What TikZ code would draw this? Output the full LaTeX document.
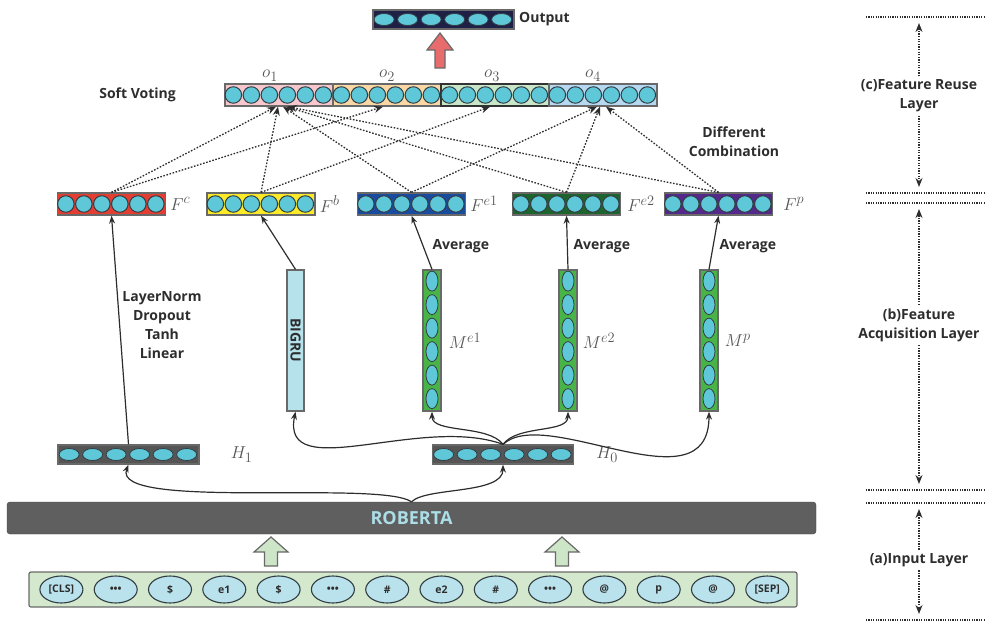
\documentclass[tikz,border=0pt]{standalone}
\usepackage{fontspec}
\setsansfont{Open Sans}
\usetikzlibrary{arrows.meta, positioning, shapes.geometric, calc}

\definecolor{txtgray}{RGB}{45,45,45}
\definecolor{mathgray}{RGB}{85,85,85}
\definecolor{boxgray}{RGB}{105,105,105}
\definecolor{ballcyan}{RGB}{95,200,216}
\definecolor{ballrim}{RGB}{50,62,68}
\definecolor{navy}{RGB}{30,32,70}
\definecolor{redarrow}{RGB}{232,108,108}
\definecolor{pinkseg}{RGB}{246,200,206}
\definecolor{orangeseg}{RGB}{250,216,166}
\definecolor{greenseg}{RGB}{200,230,200}
\definecolor{blueseg}{RGB}{182,216,240}
\definecolor{fcred}{RGB}{228,62,50}
\definecolor{fbyellow}{RGB}{250,234,40}
\definecolor{feblue}{RGB}{25,75,160}
\definecolor{fegreen}{RGB}{30,100,45}
\definecolor{fppurple}{RGB}{85,40,140}
\definecolor{mgreen}{RGB}{72,180,72}
\definecolor{grublue}{RGB}{182,226,236}
\definecolor{hgray}{RGB}{85,85,85}
\definecolor{robgray}{RGB}{95,95,95}
\definecolor{robtext}{RGB}{172,222,232}
\definecolor{inpgreen}{RGB}{212,232,206}
\definecolor{tokblue}{RGB}{186,226,236}
\definecolor{arrowgreen}{RGB}{206,230,200}

\begin{document}
\begin{tikzpicture}[
  x=1pt, y=-1pt,
  >=Stealth,
  lbl/.style={font=\sffamily\bfseries\fontsize{14}{19}\selectfont, text=txtgray, align=center},
  mathlbl/.style={font=\fontsize{19}{19}\selectfont, text=mathgray, inner sep=1pt},
  vecbox/.style={draw=boxgray, line width=1.3pt, minimum width=108pt,
    minimum height=22pt, inner sep=0pt},
  ball/.style={circle, draw=ballrim, fill=ballcyan, line width=1pt,
    minimum size=16.5pt, inner sep=0pt},
  hball/.style={ellipse, draw=ballrim, fill=ballcyan, line width=0.8pt,
    minimum width=20pt, minimum height=12pt, inner sep=0pt},
  vball/.style={ellipse, draw=ballrim, fill=ballcyan, line width=0.8pt,
    minimum width=12pt, minimum height=20pt, inner sep=0pt},
  hbox/.style={vecbox, fill=hgray, minimum width=141pt, minimum height=19pt},
  mcol/.style={vecbox, fill=mgreen, minimum width=18pt, minimum height=141pt},
  token/.style={ellipse, draw=ballrim, fill=tokblue, line width=1.1pt,
    minimum width=43pt, minimum height=27pt, inner sep=0pt,
    font=\sffamily\bfseries\fontsize{10.5}{11}\selectfont, text=txtgray},
  link/.style={-{Stealth[length=8pt, width=6pt]}, line width=1.2pt, draw=txtgray},
  vote/.style={-{Stealth[length=9pt, width=7pt]}, line width=1.3pt, draw=txtgray,
    dash pattern=on 1.6pt off 1.6pt},
  layerline/.style={line width=1.6pt, draw=txtgray, dash pattern=on 1.2pt off 1.2pt},
  layerarrow/.style={-{Stealth[length=9pt, width=7pt]}, line width=1.3pt,
    draw=txtgray, dash pattern=on 1.3pt off 1.3pt},
  blockarrow/.style={draw=boxgray, line width=1.2pt, line join=miter}
]
\useasboundingbox (0,0) rectangle (989,622);

% Output layer
\node[hbox, fill=navy] (out) at (443.5,19.5) {};
\node[lbl, right=1pt of out] (outtxt) {Output};
\draw[blockarrow, fill=redarrow] (440,68) -- ++(5,0) -- ++(0,-18) -- ++(8,0)
  -- ++(-13,-17) -- ++(-13,17) -- ++(8,0) -- ++(0,18) -- cycle;

% Soft voting bar
\node[vecbox, fill=pinkseg] (o1) at (279,95) {};
\node[vecbox, fill=orangeseg] (o2) at (387,95) {};
\node[vecbox, fill=greenseg, draw=black!80] (o3) at (495,95) {};
\node[vecbox, fill=blueseg] (o4) at (603,95) {};
\node[mathlbl, above=1pt of o1, xshift=-9pt] {$o_1$};
\node[mathlbl, above=1pt of o2] {$o_2$};
\node[mathlbl, above=1pt of o3, xshift=-3pt] {$o_3$};
\node[mathlbl, above=1pt of o4, xshift=-10pt] {$o_4$};
\node[lbl, left=45pt of o1] (vote) {Soft Voting};

% Feature vectors
\node[vecbox, fill=fcred] (fc) at (111.5,204) {};
\node[vecbox, fill=fbyellow] (fb) at (261,204) {};
\node[vecbox, fill=feblue] (fe1) at (411.5,204) {};
\node[vecbox, fill=fegreen] (fe2) at (566.5,204) {};
\node[vecbox, fill=fppurple] (fp) at (718.5,204) {};
\node[mathlbl, right=3pt of fc] {$F^c$};
\node[mathlbl, right=3pt of fb] {$F^b$};
\node[mathlbl, right=3pt of fe1] {$F^{e1}$};
\node[mathlbl, right=5pt of fe2] {$F^{e2}$};
\node[mathlbl, right=9pt of fp] {$F^p$};
\node[lbl] (combo) at (734,142) {Different\\Combination};

\foreach \n in {fc,fb,fe1,fe2,fp,o1,o2,o3,o4}
  \foreach \i in {0,...,5}
    \node[ball] at ($(\n.west)+(9+18*\i,0)$) {};

% Different combinations
\foreach \f/\o/\d in {fc/o1/-3, fb/o1/-1, fe1/o1/4, fe2/o1/7, fp/o1/9,
                      fc/o2/-4, fb/o3/-5, fe1/o4/-6, fe2/o4/-3, fp/o4/3}
  \draw[vote] (\f.north) -- ($(\o.south)+(\d,0)$);

% Feature acquisition
\node[vecbox, fill=grublue, minimum width=17pt, minimum height=141pt] (bigru) at (295.5,340.5)
  {\rotatebox{-90}{\sffamily\bfseries\fontsize{14}{14}\selectfont\color{txtgray}BIGRU}};
\node[mcol] (me1) at (432,340.5) {};
\node[mcol] (me2) at (568,340.5) {};
\node[mcol] (mp) at (709,340.5) {};
\foreach \n in {me1,me2,mp}
  \foreach \i in {0,...,5}
    \node[vball] at ($(\n.north)+(0,11.75+23.5*\i)$) {};
\node[mathlbl, right=6pt of me1] {$M^{e1}$};
\node[mathlbl, right=4pt of me2] {$M^{e2}$};
\node[mathlbl, right=5pt of mp] {$M^p$};

\node[hbox] (h1) at (128.5,454.5) {};
\node[hbox] (h0) at (503,454.5) {};
\foreach \n in {h1,h0,out}
  \foreach \i in {0,...,5}
    \node[hball] at ($(\n.west)+(11.75+23.5*\i,0)$) {};
\node[mathlbl, right=30pt of h1] {$H_1$};
\node[mathlbl, right=21pt of h0] {$H_0$};

\draw[link] (h1.north) -- (fc.south);
\node[lbl] (ops) at (162,325) {LayerNorm\\Dropout\\Tanh\\Linear};
\draw[link] (bigru.north) -- (fb.south);
\draw[link] (me1.north) -- (fe1.south);
\draw[link] (me2.north) -- (fe2.south);
\draw[link] (mp.north) -- (fp.south);
\node[lbl, anchor=west] at ($(me1.north)+(-3,-23)$) {Average};
\node[lbl, anchor=west] at ($(me2.north)+(2,-23)$) {Average};
\node[lbl, anchor=west] at ($(mp.north)+(7,-23)$) {Average};

\draw[link] (h0.north) .. controls +(-82,-30) and +(-15,74) .. (bigru.south);
\draw[link] (h0.north) .. controls +(-15,-20) and +(0,22) .. (me1.south);
\draw[link] (h0.north) .. controls +(15,-20) and +(0,22) .. (me2.south);
\draw[link] (h0.north) .. controls +(43,-40) and +(0,99) .. (mp.south);

% Input layer
\node[draw=robgray!70!black, fill=robgray, rounded corners=3pt, minimum width=809pt,
  minimum height=32pt, font=\sffamily\bfseries\fontsize{18}{18}\selectfont,
  text=robtext] (roberta) at (411.5,518) {ROBERTA};
\draw[link] (roberta.north) .. controls +(-32,-22) and +(-18,46) .. (h1.south);
\draw[link] (roberta.north) .. controls +(15,-15) and +(0,30) .. (h0.south);

\foreach \x in {271,562}
  \draw[blockarrow, fill=arrowgreen] (\x,566) -- ++(6.5,0) -- ++(0,-14) -- ++(10.5,0)
    -- ++(-17,-15) -- ++(-17,15) -- ++(10.5,0) -- ++(0,14) -- cycle;

\node[draw=boxgray, line width=1.2pt, fill=inpgreen, rounded corners=2pt,
  minimum width=768pt, minimum height=35pt] (inbar) at (413,589.5) {};
\foreach \t [count=\i from 0] in {{[CLS]},•••,\$,e1,\$,•••,\#,e2,\#,•••,@,p,@,{[SEP]}}
  \node[token] (tok\i) at ($(inbar.west)+(33+54.3*\i,0)$) {\t};

% Layer markers
\draw[layerline] (866,17) -- (984,17);
\draw[layerline] (866,193) -- (984,193);
\draw[layerline] (866,203) -- (984,203);
\draw[layerline] (866,490) -- (984,490);
\draw[layerline] (866,503) -- (984,503);
\draw[layerline] (866,620) -- (984,620);
\coordinate (cup) at (919,23);
\coordinate (cdn) at (919,187);
\coordinate (bup) at (919,209);
\coordinate (bdn) at (919,484);
\coordinate (aup) at (919,509);
\coordinate (adn) at (919,614);
\node[lbl] (layc) at (919,96) {(c)Feature Reuse\\Layer};
\node[lbl] (layb) at (919,325) {(b)Feature\\Acquisition Layer};
\node[lbl] (laya) at (919,560) {(a)Input Layer};
\draw[layerarrow] (layc) -- (cup);
\draw[layerarrow] (layc) -- (cdn);
\draw[layerarrow] (layb) -- (bup);
\draw[layerarrow] (layb) -- (bdn);
\draw[layerarrow] (laya) -- (aup);
\draw[layerarrow] (laya) -- (adn);

\end{tikzpicture}
\end{document}
